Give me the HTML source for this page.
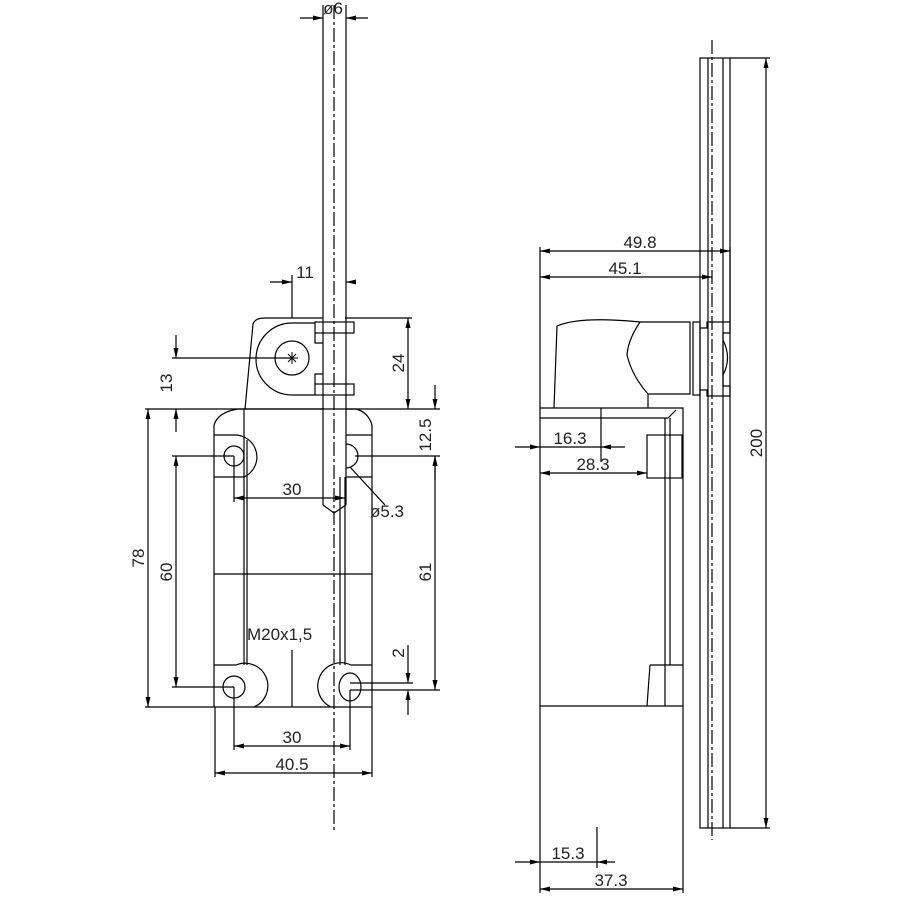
<!DOCTYPE html>
<html><head><meta charset="utf-8"><style>body{margin:0;background:#fff}svg{display:block}text{font-family:"Liberation Sans",sans-serif;font-size:17px;fill:#222}</style></head><body>
<svg width="900" height="900" viewBox="0 0 900 900" xmlns="http://www.w3.org/2000/svg">
<defs>
<marker id="a" viewBox="0 0 10 6" refX="10" refY="3" markerWidth="10" markerHeight="6" orient="auto-start-reverse" markerUnits="userSpaceOnUse"><path d="M0,0.5L10,3L0,5.5z" fill="#000"/></marker>
</defs>
<g stroke="#000" stroke-width="1.2" fill="none">
<line x1="323" y1="20" x2="323" y2="505"/><line x1="346" y1="20" x2="346" y2="505"/>
<path d="M323,505 L334,513 L346,505"/>
<line x1="334" y1="5" x2="334" y2="830" stroke-dasharray="14,3,3,3"/>
<line x1="323" y1="5" x2="323" y2="20"/><line x1="346" y1="5" x2="346" y2="20"/>
<line x1="300" y1="18" x2="323" y2="18" marker-end="url(#a)"/><line x1="368" y1="18" x2="346" y2="18" marker-end="url(#a)"/>
<path d="M245,409 L253,324 Q255,318 265,318 L323,318"/>
<path d="M315,323 L292,323 A34,34 0 1 0 292,395 L315,395"/>
<circle cx="292" cy="358" r="17"/>
<path d="M286,358h12M292,352v12M288,354l8,8M296,354l-8,8" stroke-width="1"/>
<rect x="315" y="322" width="39" height="11"/><rect x="315" y="384" width="39" height="11"/>
<path d="M315,333v10h8M315,384v-10h8"/>
<path d="M214,707 L214,425 Q218,412 238,409 L323,409"/>
<path d="M346,409 L356,409 Q368,412 372,425 L372,707"/>
<line x1="214" y1="707" x2="372" y2="707"/>
<line x1="244" y1="409" x2="244" y2="665"/><line x1="247" y1="440" x2="247" y2="665"/>
<line x1="340" y1="477" x2="340" y2="665"/><line x1="345" y1="477" x2="345" y2="665"/>
<path d="M214,435 L234,435 A22,22 0 0 1 244,477 L214,477"/>
<circle cx="234" cy="456" r="10"/>
<path d="M346,435 L372,435 M346,477 L372,477"/>
<path d="M346,444 A12,12 0 0 1 346,468"/>
<line x1="214" y1="574" x2="372" y2="574"/>
<path d="M214,665 L236,665 A20,20 0 0 1 254,707"/>
<circle cx="234" cy="687" r="11"/>
<path d="M331,707 A22,22 0 0 1 351,665 L372,665"/>
<ellipse cx="350" cy="687" rx="11" ry="14"/>
<line x1="292" y1="275" x2="292" y2="318"/>
<line x1="270" y1="282" x2="292" y2="282" marker-end="url(#a)"/><line x1="350" y1="282" x2="346" y2="282" marker-end="url(#a)"/>
<line x1="345" y1="318" x2="412" y2="318"/>
<line x1="408" y1="363" x2="408" y2="318" marker-end="url(#a)"/><line x1="408" y1="363" x2="408" y2="409" marker-end="url(#a)"/>
<line x1="172" y1="358" x2="292" y2="358"/>
<line x1="176" y1="335" x2="176" y2="358" marker-end="url(#a)"/><line x1="176" y1="432" x2="176" y2="409" marker-end="url(#a)"/>
<line x1="145" y1="409" x2="440" y2="409"/>
<line x1="435" y1="385" x2="435" y2="409" marker-end="url(#a)"/><line x1="435" y1="480" x2="435" y2="456" marker-end="url(#a)"/>
<line x1="172" y1="456" x2="234" y2="456"/><line x1="355" y1="456" x2="440" y2="456"/>
<line x1="350" y1="467" x2="385" y2="505"/>
<line x1="234" y1="456" x2="234" y2="502"/>
<line x1="290" y1="498" x2="234" y2="498" marker-end="url(#a)"/><line x1="290" y1="498" x2="345" y2="498" marker-end="url(#a)"/>
<line x1="148" y1="558" x2="148" y2="409" marker-end="url(#a)"/><line x1="148" y1="558" x2="148" y2="707" marker-end="url(#a)"/>
<line x1="176" y1="572" x2="176" y2="456" marker-end="url(#a)"/><line x1="176" y1="572" x2="176" y2="687" marker-end="url(#a)"/>
<line x1="435" y1="572" x2="435" y2="456" marker-end="url(#a)"/><line x1="435" y1="572" x2="435" y2="690" marker-end="url(#a)"/>
<line x1="172" y1="687" x2="234" y2="687"/><line x1="145" y1="707" x2="214" y2="707"/>
<line x1="350" y1="683" x2="413" y2="683"/><line x1="350" y1="690" x2="440" y2="690"/>
<line x1="408" y1="645" x2="408" y2="683" marker-end="url(#a)"/><line x1="408" y1="715" x2="408" y2="690" marker-end="url(#a)"/>
<line x1="292" y1="650" x2="292" y2="707"/>
<line x1="234" y1="687" x2="234" y2="750"/><line x1="350" y1="690" x2="350" y2="750"/>
<line x1="292" y1="746" x2="234" y2="746" marker-end="url(#a)"/><line x1="292" y1="746" x2="350" y2="746" marker-end="url(#a)"/>
<line x1="215" y1="707" x2="215" y2="777"/><line x1="372" y1="707" x2="372" y2="777"/>
<line x1="292" y1="773" x2="215" y2="773" marker-end="url(#a)"/><line x1="292" y1="773" x2="372" y2="773" marker-end="url(#a)"/>
<rect x="700" y="58" width="30" height="770"/>
<line x1="708" y1="58" x2="708" y2="828"/><line x1="723" y1="58" x2="723" y2="828"/>
<line x1="712" y1="40" x2="712" y2="840" stroke-dasharray="14,3,3,3"/>
<line x1="730" y1="58" x2="770" y2="58"/><line x1="730" y1="828" x2="770" y2="828"/>
<line x1="766" y1="443" x2="766" y2="58" marker-end="url(#a)"/><line x1="766" y1="443" x2="766" y2="828" marker-end="url(#a)"/>
<path d="M554,408 L557,326 Q580,316 640,322 L690,322 L690,394 L648,394 L648,408"/>
<path d="M640,322 Q628,340 627,355 Q632,376 648,394"/>
<rect x="693" y="322" width="7" height="73"/>
<path d="M700,328h7v-6h23v11h-7v53h7v10h-23v-6h-7"/>
<path d="M723,340 Q732,358 723,375"/>
<path d="M540,408 L683,408 L683,706 L540,706"/>
<path d="M540,418 L668,418 L676,410"/>
<line x1="665" y1="418" x2="665" y2="665"/><line x1="670" y1="418" x2="670" y2="665"/>
<rect x="647" y="435" width="35" height="43"/>
<path d="M665,665 L665,706 M650,665 L683,665 M650,665 L647,706"/>
<line x1="540" y1="247" x2="540" y2="893"/>
<line x1="730" y1="247" x2="730" y2="322"/>
<line x1="640" y1="251" x2="540" y2="251" marker-end="url(#a)"/><line x1="640" y1="251" x2="730" y2="251" marker-end="url(#a)"/>
<line x1="625" y1="277" x2="540" y2="277" marker-end="url(#a)"/><line x1="625" y1="277" x2="712" y2="277" marker-end="url(#a)"/>
<line x1="601" y1="408" x2="601" y2="462"/>
<line x1="515" y1="447" x2="540" y2="447" marker-end="url(#a)"/><line x1="540" y1="447" x2="601" y2="447"/><line x1="625" y1="447" x2="601" y2="447" marker-end="url(#a)"/>
<line x1="590" y1="473" x2="540" y2="473" marker-end="url(#a)"/><line x1="590" y1="473" x2="647" y2="473" marker-end="url(#a)"/>
<line x1="597" y1="827" x2="597" y2="868"/>
<line x1="515" y1="862" x2="540" y2="862" marker-end="url(#a)"/><line x1="540" y1="862" x2="597" y2="862"/><line x1="615" y1="862" x2="597" y2="862" marker-end="url(#a)"/>
<line x1="683" y1="706" x2="683" y2="893"/>
<line x1="611" y1="889" x2="540" y2="889" marker-end="url(#a)"/><line x1="611" y1="889" x2="683" y2="889" marker-end="url(#a)"/>
</g>
<g>
<text x="333" y="14" text-anchor="middle">ø6</text>
<text x="305" y="278" text-anchor="middle">11</text>
<text transform="translate(404,363) rotate(-90)" text-anchor="middle">24</text>
<text transform="translate(172,383) rotate(-90)" text-anchor="middle">13</text>
<text transform="translate(431,435) rotate(-90)" text-anchor="middle">12.5</text>
<text x="370" y="517">ø5.3</text>
<text x="292" y="495" text-anchor="middle">30</text>
<text transform="translate(144,558) rotate(-90)" text-anchor="middle">78</text>
<text transform="translate(172,572) rotate(-90)" text-anchor="middle">60</text>
<text transform="translate(431,572) rotate(-90)" text-anchor="middle">61</text>
<text transform="translate(404,653) rotate(-90)" text-anchor="middle">2</text>
<text x="247" y="640">M20x1,5</text>
<text x="292" y="743" text-anchor="middle">30</text>
<text x="292" y="770" text-anchor="middle">40.5</text>
<text transform="translate(762,443) rotate(-90)" text-anchor="middle">200</text>
<text x="640" y="248" text-anchor="middle">49.8</text>
<text x="625" y="274" text-anchor="middle">45.1</text>
<text x="570" y="444" text-anchor="middle">16.3</text>
<text x="593" y="470" text-anchor="middle">28.3</text>
<text x="568" y="859" text-anchor="middle">15.3</text>
<text x="611" y="886" text-anchor="middle">37.3</text>
</g>
</svg>
</body></html>
